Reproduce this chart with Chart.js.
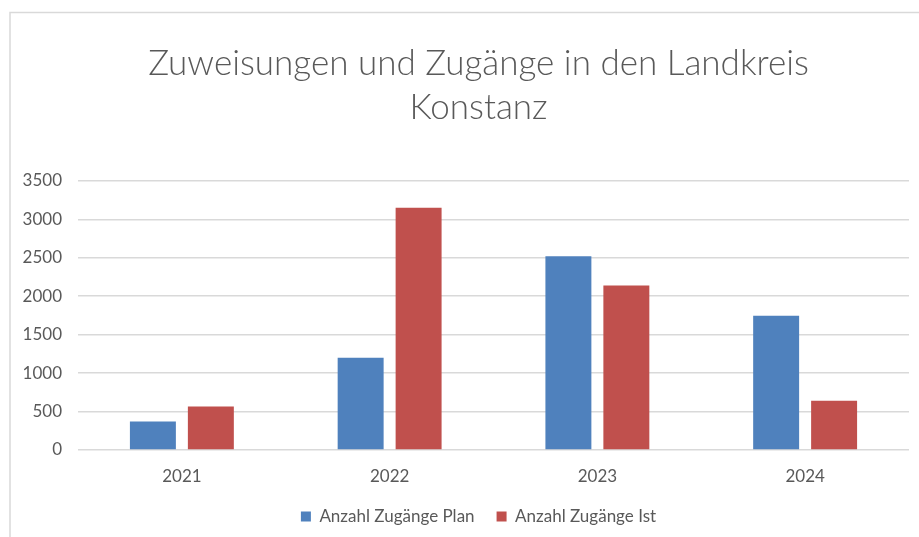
<!DOCTYPE html>
<html>
<head>
<meta charset="utf-8">
<script src="https://cdn.jsdelivr.net/npm/chart.js@4.4.1/dist/chart.umd.min.js"></script>
<style>
  html, body { margin: 0; padding: 0; background: #fff; }
  #wrap { width: 919px; height: 537px; position: relative; }
</style>
</head>
<body>
<div id="wrap"><canvas id="chart" width="919" height="537"></canvas></div>
<script>
const years = ['2021', '2022', '2023', '2024'];
const planValues = [370, 1200, 2520, 1745];
const istValues = [565, 3150, 2140, 640];
const seriesNames = ['Anzahl Zugänge Plan', 'Anzahl Zugänge Ist'];
const titleLines = ['Zuweisungen und Zugänge in den Landkreis', 'Konstanz'];

const textColor = '#595959';
const gridColor = '#d9d9d9';
const fontName = 'Lato, "Open Sans", sans-serif';

// light frame around the chart, like the office chart border
const frame = {
    id: 'frame',
    beforeDraw(chart) {
        const c = chart.ctx;
        c.save();
        c.fillStyle = '#fff';
        c.fillRect(0, 0, chart.width, chart.height);
        c.strokeStyle = gridColor;
        c.lineWidth = 1.5;
        c.beginPath();
        c.moveTo(10, chart.height);
        c.lineTo(10, 12.5);
        c.lineTo(chart.width, 12.5);
        c.stroke();
        c.restore();
    }
};

// title and legend are centred a bit right of the canvas middle in the original
const nudge = {
    id: 'nudge',
    afterLayout(chart) {
        [chart.titleBlock, chart.legend].forEach(b => {
            if (!b) return;
            b.left += 19;
            b.right += 19;
        });
    }
};

new Chart(document.getElementById('chart'), {
    type: 'bar',
    data: {
        labels: years,
        datasets: [
            { label: seriesNames[0], data: planValues, backgroundColor: '#4F81BD' },
            { label: seriesNames[1], data: istValues, backgroundColor: '#C0504D' }
        ]
    },
    options: {
        responsive: false,
        animation: false,
        categoryPercentage: 0.558,
        barPercentage: 0.793,
        layout: { padding: { left: 10, right: 10, top: 0, bottom: 2 } },
        scales: {
            x: {
                grid: { display: false, drawTicks: false },
                border: { display: false },
                ticks: { color: textColor, font: { family: fontName, size: 17 }, padding: 16 },
                afterFit(scale) { scale.height = 36; }
            },
            y: {
                min: 0,
                max: 3500,
                ticks: {
                    stepSize: 500,
                    color: textColor,
                    font: { family: fontName, size: 17 },
                    padding: 16,
                    callback: v => String(v)
                },
                grid: { color: gridColor, lineWidth: 1.5, drawTicks: false },
                border: { display: false },
                afterFit(scale) { scale.width = 68; }
            }
        },
        plugins: {
            title: {
                display: true,
                text: titleLines,
                color: textColor,
                font: { family: fontName, size: 35, weight: '300', lineHeight: 1.27 },
                padding: { top: 41, bottom: 51 }
            },
            legend: {
                position: 'bottom',
                labels: {
                    color: textColor,
                    font: { family: fontName, size: 17 },
                    boxWidth: 10,
                    boxHeight: 10,
                    padding: 22
                }
            },
            tooltip: { enabled: false }
        }
    },
    plugins: [frame, nudge]
});
</script>
</body>
</html>
